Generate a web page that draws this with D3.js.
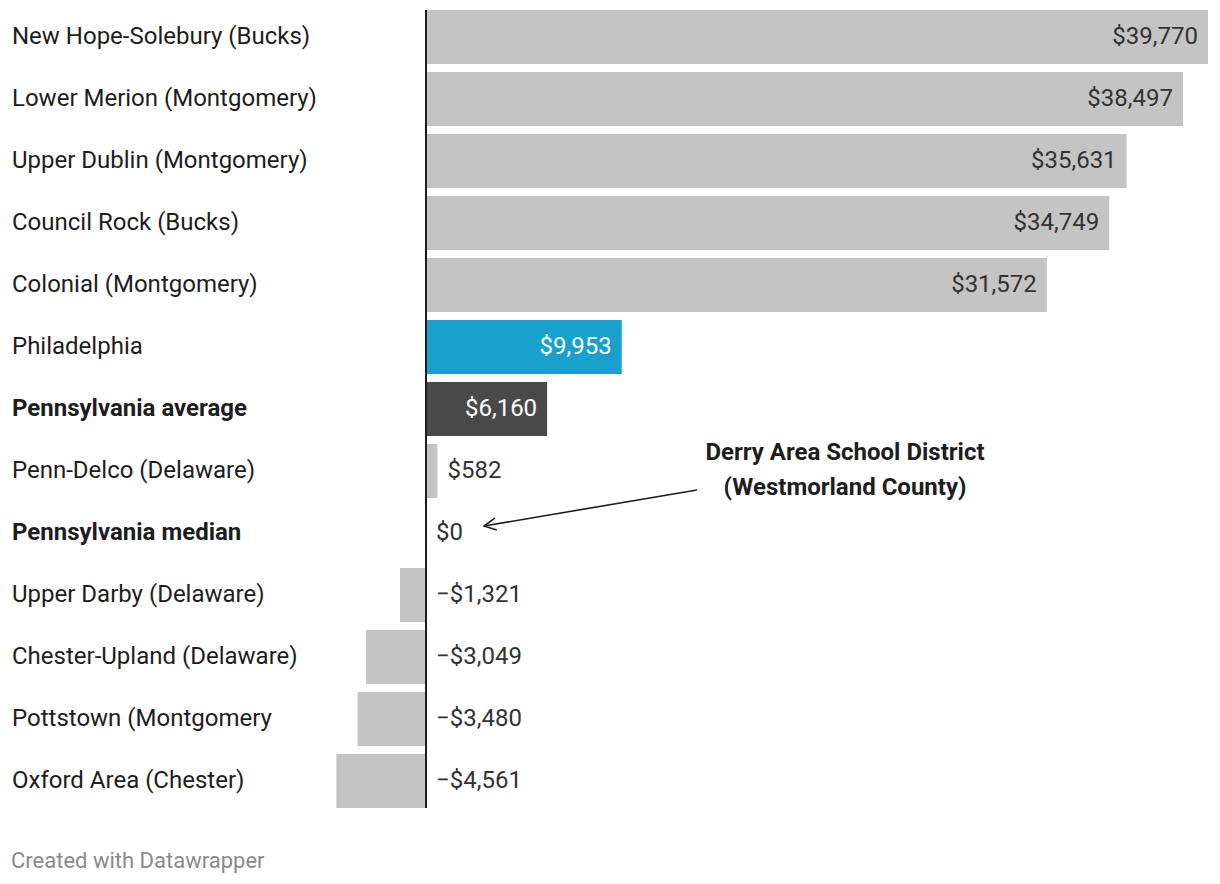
<!DOCTYPE html>
<html>
<head>
<meta charset="utf-8">
<script src="https://cdn.jsdelivr.net/npm/d3@7"></script>
<style>
  body { margin: 0; background: #fff; font-family: Roboto, sans-serif; }
  .label { font-size: 24px; fill: #1d1d1d; }
  .value { font-size: 24px; }
  .footer { font-size: 22px; fill: #8a8a8a; }
  .annot { font-size: 24px; font-weight: 700; fill: #1d1d1d; }
</style>
</head>
<body>
<svg id="chart"></svg>
<script>
// Data
const districts = [
  'New Hope-Solebury (Bucks)',
  'Lower Merion (Montgomery)',
  'Upper Dublin (Montgomery)',
  'Council Rock (Bucks)',
  'Colonial (Montgomery)',
  'Philadelphia',
  'Pennsylvania average',
  'Penn-Delco (Delaware)',
  'Pennsylvania median',
  'Upper Darby (Delaware)',
  'Chester-Upland (Delaware)',
  'Pottstown (Montgomery',
  'Oxford Area (Chester)'
];
const values = [39770, 38497, 35631, 34749, 31572, 9953, 6160, 582, 0, -1321, -3049, -3480, -4561];
const highlight = ['', '', '', '', '', 'philly', 'avg', '', '', '', '', '', ''];
const boldRows = ['Pennsylvania average', 'Pennsylvania median'];

const annotationLines = ['Derry Area School District', '(Westmorland County)'];

const width = 1220, height = 884;
const svg = d3.select('#chart').attr('width', width).attr('height', height);

const data = districts.map((d, i) => ({ name: d, value: values[i], kind: highlight[i] }));

const x = d3.scaleLinear()
    .domain([0, d3.max(values)])
    .range([426, 1208]);

const y = d3.scaleBand()
    .domain(districts)
    .range([10, 808])
    .paddingInner(8 / 62)
    .paddingOuter(0);

const fmt = d3.format('$,');

const fillFor = d => d.kind === 'philly' ? '#18a1cd' : d.kind === 'avg' ? '#494949' : '#c4c4c4';

// Bars
svg.append('g').selectAll('rect')
  .data(data)
  .join('rect')
    .attr('x', d => x(Math.min(0, d.value)))
    .attr('y', d => y(d.name))
    .attr('width', d => Math.abs(x(d.value) - x(0)))
    .attr('height', y.bandwidth())
    .attr('fill', fillFor);

// Row labels
svg.append('g').selectAll('text')
  .data(data)
  .join('text')
    .attr('class', 'label')
    .attr('x', 12)
    .attr('y', d => y(d.name) + y.bandwidth() / 2 - 1)
    .attr('dy', '0.35em')
    .style('font-weight', d => boldRows.includes(d.name) ? 700 : 400)
    .text(d => d.name);

// Value labels
const inside = d => d.value > 0 && (x(d.value) - x(0)) > 100;
svg.append('g').selectAll('text')
  .data(data)
  .join('text')
    .attr('class', 'value')
    .attr('x', d => inside(d) ? x(d.value) - 10 : x(Math.max(0, d.value)) + 10)
    .attr('y', d => y(d.name) + y.bandwidth() / 2 - 1)
    .attr('dy', '0.35em')
    .attr('text-anchor', d => inside(d) ? 'end' : 'start')
    .attr('fill', d => d.kind ? '#ffffff' : '#333333')
    .text(d => fmt(d.value));

// Zero axis line
svg.append('line')
    .attr('x1', x(0)).attr('x2', x(0))
    .attr('y1', 10).attr('y2', 808)
    .attr('stroke', '#1d1d1d')
    .attr('stroke-width', 2);

// Annotation
const medianY = y('Pennsylvania median') + y.bandwidth() / 2;
const ax = x(0) + 419;
svg.append('text')
    .attr('class', 'annot')
    .attr('text-anchor', 'middle')
    .attr('x', ax)
    .attr('y', medianY - 73)
    .selectAll('tspan')
    .data(annotationLines)
    .join('tspan')
      .attr('x', ax)
      .attr('dy', (d, i) => i === 0 ? 0 : 35)
      .text(d => d);

svg.append('defs').append('marker')
    .attr('id', 'arrow')
    .attr('viewBox', '0 0 14 14')
    .attr('refX', 13).attr('refY', 7)
    .attr('markerWidth', 14).attr('markerHeight', 14)
    .attr('markerUnits', 'userSpaceOnUse')
    .attr('orient', 'auto')
  .append('path')
    .attr('d', 'M1,1 L13,7 L1,13')
    .attr('fill', 'none')
    .attr('stroke', '#1d1d1d')
    .attr('stroke-width', 1.6);

svg.append('line')
    .attr('x1', x(0) + 271).attr('y1', medianY - 43)
    .attr('x2', x(0) + 58).attr('y2', medianY - 7)
    .attr('stroke', '#1d1d1d')
    .attr('stroke-width', 1.6)
    .attr('marker-end', 'url(#arrow)');

// Footer
svg.append('text')
    .attr('class', 'footer')
    .attr('x', 11)
    .attr('y', 868)
    .text('Created with Datawrapper');
</script>
</body>
</html>
